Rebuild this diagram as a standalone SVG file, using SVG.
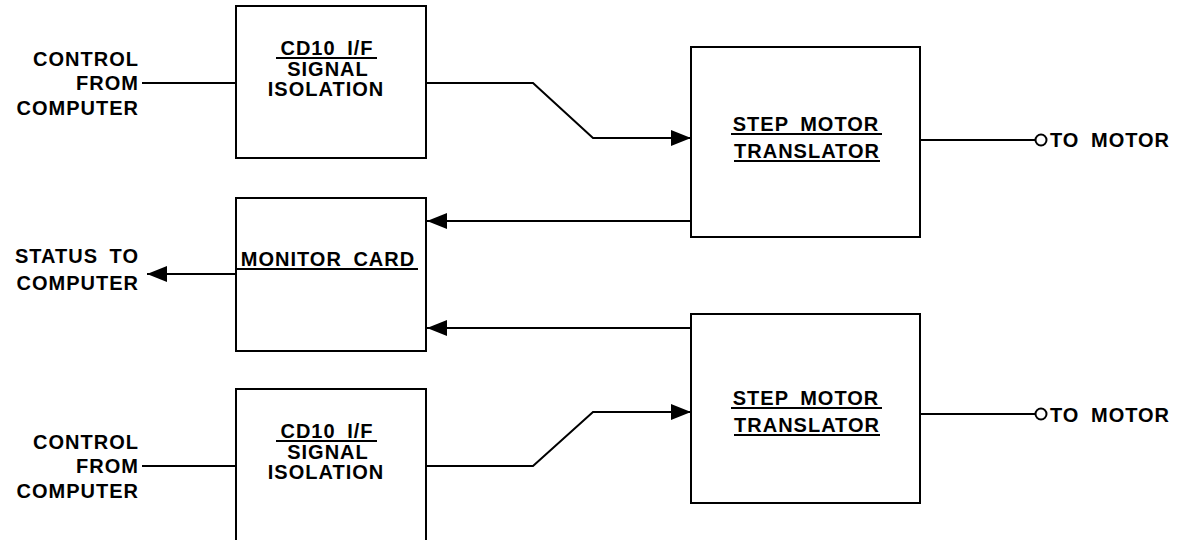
<svg xmlns="http://www.w3.org/2000/svg" width="1184" height="540" viewBox="0 0 1184 540">
<defs>
<style>
.box{fill:#fff;stroke:#000;stroke-width:2}
.ln{fill:none;stroke:#000;stroke-width:2}
.arr{fill:none;stroke:#000;stroke-width:2;marker-end:url(#ah)}
.t{font-family:"Liberation Sans",Arial,sans-serif;font-size:20px;font-weight:bold;letter-spacing:1px;fill:#000}
.m{text-anchor:middle}
.e{text-anchor:end}
.ul{stroke:#000;stroke-width:1.8}
</style>
<marker id="ah" markerUnits="userSpaceOnUse" markerWidth="20" markerHeight="16" refX="20" refY="8" orient="auto">
<path d="M0,0 L20,8 L0,16 z" fill="#000"/>
</marker>
</defs>
<rect width="1184" height="540" fill="#fff"/>

<g id="connectors">
<line class="ln" x1="142" y1="83" x2="236" y2="83"/>
<polyline class="arr" points="426,83 533,83 593,138 691,138"/>
<line class="ln" x1="920" y1="140" x2="1035" y2="140"/>
<circle cx="1041" cy="140" r="5.5" fill="#fff" stroke="#000" stroke-width="2"/>
<line class="arr" x1="691" y1="221" x2="427" y2="221"/>
<line class="arr" x1="236" y1="274" x2="147" y2="274"/>
<line class="arr" x1="691" y1="328" x2="427" y2="328"/>
<line class="ln" x1="142" y1="466" x2="236" y2="466"/>
<polyline class="arr" points="426,466 533,466 593,412 691,412"/>
<line class="ln" x1="920" y1="414" x2="1035" y2="414"/>
<circle cx="1041" cy="414" r="5.5" fill="#fff" stroke="#000" stroke-width="2"/>
</g>

<g id="control-top">
<text class="t e" x="139" y="66">CONTROL</text>
<text class="t e" x="139" y="90">FROM</text>
<text class="t e" x="139" y="115">COMPUTER</text>
</g>

<g id="cd10-top">
<rect class="box" x="236" y="6" width="190" height="152"/>
<text class="t m" x="327" y="55" style="word-spacing:5px">CD10 I/F</text>
<line class="ul" x1="276" y1="58" x2="377" y2="58"/>
<text class="t m" x="328" y="76">SIGNAL</text>
<text class="t m" x="326" y="96">ISOLATION</text>
</g>

<g id="step-top">
<rect class="box" x="691" y="47" width="229" height="190"/>
<text class="t m" x="806" y="131" style="word-spacing:5px">STEP MOTOR</text>
<line class="ul" x1="731" y1="134" x2="882" y2="134"/>
<text class="t m" x="807" y="158">TRANSLATOR</text>
<line class="ul" x1="734" y1="161" x2="880" y2="161"/>
</g>

<g id="motor-top">
<text class="t" x="1050" y="147" style="word-spacing:5px">TO MOTOR</text>
</g>

<g id="monitor">
<rect class="box" x="236" y="198" width="190" height="153"/>
<text class="t m" x="328" y="266" style="word-spacing:5px">MONITOR CARD</text>
<line class="ul" x1="237" y1="269" x2="418" y2="269"/>
</g>

<g id="status">
<text class="t e" x="139" y="263" style="word-spacing:5px">STATUS TO</text>
<text class="t e" x="139" y="290">COMPUTER</text>
</g>

<g id="step-bottom">
<rect class="box" x="691" y="314" width="229" height="189"/>
<text class="t m" x="806" y="405" style="word-spacing:5px">STEP MOTOR</text>
<line class="ul" x1="731" y1="408" x2="882" y2="408"/>
<text class="t m" x="807" y="432">TRANSLATOR</text>
<line class="ul" x1="734" y1="435" x2="880" y2="435"/>
</g>

<g id="motor-bottom">
<text class="t" x="1050" y="422" style="word-spacing:5px">TO MOTOR</text>
</g>

<g id="cd10-bottom">
<rect class="box" x="236" y="389" width="190" height="160"/>
<text class="t m" x="327" y="438" style="word-spacing:5px">CD10 I/F</text>
<line class="ul" x1="276" y1="441" x2="377" y2="441"/>
<text class="t m" x="328" y="459">SIGNAL</text>
<text class="t m" x="326" y="479">ISOLATION</text>
</g>

<g id="control-bottom">
<text class="t e" x="139" y="449">CONTROL</text>
<text class="t e" x="139" y="473">FROM</text>
<text class="t e" x="139" y="498">COMPUTER</text>
</g>
</svg>
